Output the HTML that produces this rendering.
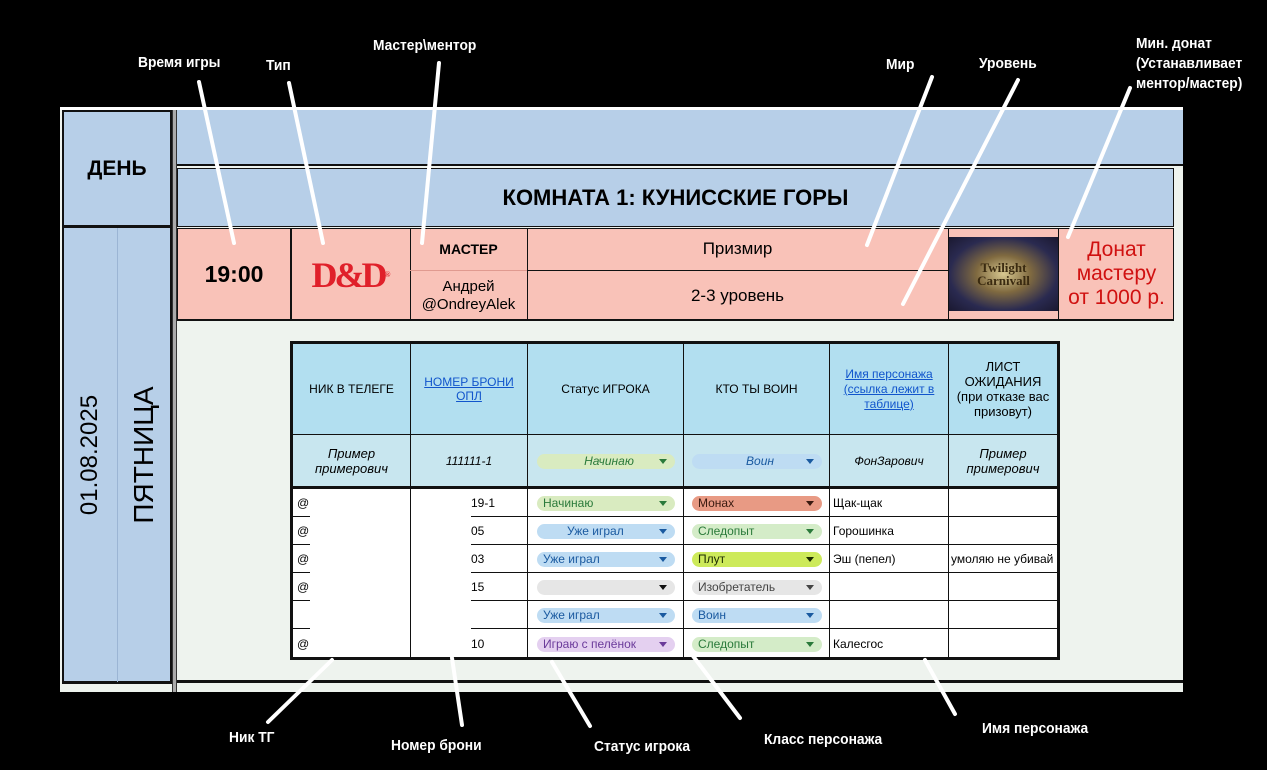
<!DOCTYPE html>
<html><head><meta charset="utf-8"><style>
body{margin:0;width:1267px;height:770px;background:#000;position:relative;overflow:hidden;font-family:"Liberation Sans","DejaVu Sans",sans-serif}
div{position:absolute;box-sizing:border-box}
.c{display:flex;align-items:center;justify-content:center;text-align:center}
.lbl{color:#fff;font-weight:bold;font-size:15px;white-space:nowrap;transform:scaleX(0.92);transform-origin:left top}
.pill{height:15px;border-radius:8px;font-size:12px;line-height:15px;padding-left:6px}
.pill:after{content:"";position:absolute;right:8px;top:5px;border-left:4px solid transparent;border-right:4px solid transparent;border-top:5px solid currentColor}
.t{font-size:12px;line-height:28px}
</style></head><body>
<div style="left:60px;top:107px;width:1123px;height:3px;background:#fff"></div>
<div style="left:60px;top:110px;width:1123px;height:582px;background:#eef3ee"></div>
<div style="left:62px;top:110px;width:110px;height:117px;background:#b7cfe8;border:2px solid #111"></div>
<div class="c" style="left:62px;top:110px;width:110px;height:117px;font-weight:bold;font-size:21px">ДЕНЬ</div>
<div style="left:62px;top:227px;width:110px;height:456px;background:#b7cfe8;border:2px solid #111;border-top:1px solid #111"></div>
<div style="left:117px;top:228px;width:1px;height:454px;background:#9bb5d4"></div>
<div class="c" style="left:-110px;top:440px;width:400px;height:30px;font-size:24px;transform:rotate(-90deg)">01.08.2025</div>
<div class="c" style="left:-56px;top:440px;width:400px;height:30px;font-size:28px;transform:rotate(-90deg)">ПЯТНИЦА</div>
<div style="left:172px;top:110px;width:5px;height:582px;background:#aaa;border-left:1px solid #333;border-right:1px solid #333"></div>
<div style="left:177px;top:110px;width:1006px;height:56px;background:#b7cfe8;border-bottom:2px solid #111"></div>
<div style="left:177px;top:168px;width:997px;height:59px;background:#b7cfe8;border:1px solid #111"></div>
<div class="c" style="left:177px;top:168px;width:997px;height:59px;font-weight:bold;font-size:22px">КОМНАТА 1: КУНИССКИЕ ГОРЫ</div>
<div style="left:177px;top:228px;width:997px;height:93px;background:#f9c2b8;border:1px solid #111;border-bottom:2px solid #111"></div>
<div style="left:290px;top:228px;width:2px;height:93px;background:#111"></div>
<div style="left:410px;top:228px;width:1px;height:93px;background:#111"></div>
<div style="left:527px;top:228px;width:1px;height:93px;background:#111"></div>
<div style="left:948px;top:228px;width:1px;height:93px;background:#111"></div>
<div style="left:1058px;top:228px;width:1px;height:93px;background:#111"></div>
<div style="left:410px;top:270px;width:117px;height:1px;background:#e09a90"></div>
<div style="left:527px;top:270px;width:421px;height:1px;background:#111"></div>
<div class="c" style="left:177px;top:228px;width:114px;height:93px;font-weight:bold;font-size:23px">19:00</div>
<div class="c" style="left:292px;top:228px;width:118px;height:93px;color:#e0202a;font-weight:bold;font-size:36px;font-family:'Liberation Serif',serif;letter-spacing:-3px">D&amp;D<span style="font-size:8px;letter-spacing:0">®</span></div>
<div class="c" style="left:410px;top:228px;width:117px;height:42px;font-weight:bold;font-size:14px">МАСТЕР</div>
<div class="c" style="left:410px;top:271px;width:117px;height:49px;font-size:15px;line-height:18px">Андрей<br>@OndreyAlek</div>
<div class="c" style="left:527px;top:228px;width:421px;height:42px;font-size:17px">Призмир</div>
<div class="c" style="left:527px;top:271px;width:421px;height:49px;font-size:17px">2-3 уровень</div>
<div class="c" style="left:949px;top:237px;width:109px;height:74px;background:radial-gradient(ellipse at center,#d8c890 0%,#806a40 35%,#2a2a50 70%,#1a1830 100%);color:#3a2a10;font-family:'Liberation Serif',serif;font-size:13px;line-height:13px;font-weight:bold">Twilight<br>Carnivall</div>
<div class="c" style="left:1059px;top:228px;width:115px;height:92px;color:#d01010;font-size:21px;line-height:24px">Донат<br>мастеру<br>от 1000 р.</div>
<div style="left:177px;top:680px;width:1006px;height:3px;background:#111"></div>
<div style="left:62px;top:682px;width:110px;height:2px;background:#111"></div>
<div style="left:290px;top:341px;width:770px;height:319px;background:#fff;border:3px solid #111"></div>
<div style="left:293px;top:344px;width:764px;height:90px;background:#b2dff0"></div>
<div style="left:293px;top:434px;width:764px;height:52px;background:#c8e6ef;border-top:1px solid #111"></div>
<div style="left:293px;top:486px;width:764px;height:3px;background:#111"></div>
<div style="left:410px;top:344px;width:1px;height:313px;background:#111"></div>
<div style="left:527px;top:344px;width:1px;height:313px;background:#111"></div>
<div style="left:683px;top:344px;width:1px;height:313px;background:#111"></div>
<div style="left:829px;top:344px;width:1px;height:313px;background:#111"></div>
<div style="left:948px;top:344px;width:1px;height:313px;background:#111"></div>
<div style="left:293px;top:516px;width:764px;height:1px;background:#111"></div>
<div style="left:293px;top:544px;width:764px;height:1px;background:#111"></div>
<div style="left:293px;top:572px;width:764px;height:1px;background:#111"></div>
<div style="left:293px;top:600px;width:764px;height:1px;background:#111"></div>
<div style="left:293px;top:628px;width:764px;height:1px;background:#111"></div>
<div class="c" style="left:293px;top:344px;width:117px;height:90px;font-size:12px">НИК В ТЕЛЕГЕ</div>
<div class="c" style="left:411px;top:344px;width:116px;height:90px;font-size:12px;color:#1155cc;text-decoration:underline">НОМЕР БРОНИ<br>ОПЛ</div>
<div class="c" style="left:528px;top:344px;width:155px;height:90px;font-size:12px">Статус ИГРОКА</div>
<div class="c" style="left:684px;top:344px;width:145px;height:90px;font-size:12px">КТО ТЫ ВОИН</div>
<div class="c" style="left:830px;top:344px;width:118px;height:90px;font-size:12px;color:#1155cc;text-decoration:underline;line-height:15px">Имя персонажа<br>(ссылка лежит в<br>таблице)</div>
<div class="c" style="left:949px;top:344px;width:108px;height:90px;font-size:13px;line-height:15px">ЛИСТ<br>ОЖИДАНИЯ<br>(при отказе вас<br>призовут)</div>
<div class="c" style="left:293px;top:435px;width:117px;height:51px;font-size:13px;font-style:italic">Пример<br>примерович</div>
<div class="c" style="left:411px;top:435px;width:116px;height:51px;font-size:12px;font-style:italic">111111-1</div>
<div class="pill c" style="left:537px;top:454px;width:138px;background:#d9ebc0;color:#2a7a3a;font-style:italic">Начинаю</div>
<div class="pill c" style="left:692px;top:454px;width:130px;background:#bedcf3;color:#1a5aa0;font-style:italic">Воин</div>
<div class="c" style="left:830px;top:435px;width:118px;height:51px;font-size:12px;font-style:italic">ФонЗарович</div>
<div class="c" style="left:949px;top:435px;width:108px;height:51px;font-size:13px;font-style:italic">Пример<br>примерович</div>
<div style="left:310px;top:489px;width:100px;height:168px;background:#fff"></div>
<div style="left:411px;top:489px;width:60px;height:168px;background:#fff"></div>
<div class="t" style="left:297px;top:489px">@</div>
<div class="t" style="left:297px;top:517px">@</div>
<div class="t" style="left:297px;top:545px">@</div>
<div class="t" style="left:297px;top:573px">@</div>
<div class="t" style="left:297px;top:630px">@</div>
<div class="t" style="left:471px;top:489px">19-1</div>
<div class="t" style="left:471px;top:517px">05</div>
<div class="t" style="left:471px;top:545px">03</div>
<div class="t" style="left:471px;top:573px">15</div>
<div class="t" style="left:471px;top:630px">10</div>
<div class="pill" style="left:537px;top:496px;width:138px;background:#d9ebc0;color:#2a7a3a">Начинаю</div>
<div class="pill" style="left:537px;top:524px;width:138px;background:#bedcf3;color:#1a5aa0;padding-left:30px">Уже играл</div>
<div class="pill" style="left:537px;top:552px;width:138px;background:#bedcf3;color:#1a5aa0">Уже играл</div>
<div class="pill" style="left:537px;top:580px;width:138px;background:#e6e6e6;color:#111"></div>
<div class="pill" style="left:537px;top:608px;width:138px;background:#bedcf3;color:#1a5aa0">Уже играл</div>
<div class="pill" style="left:537px;top:637px;width:138px;background:#e4d0f0;color:#6a3a9a">Играю с пелёнок</div>
<div class="pill" style="left:692px;top:496px;width:130px;background:#e89a84;color:#3a1a10">Монах</div>
<div class="pill" style="left:692px;top:524px;width:130px;background:#d4ecc8;color:#2a7a3a">Следопыт</div>
<div class="pill" style="left:692px;top:552px;width:130px;background:#cdea5a;color:#1a2a00">Плут</div>
<div class="pill" style="left:692px;top:580px;width:130px;background:#e6e6e6;color:#444">Изобретатель</div>
<div class="pill" style="left:692px;top:608px;width:130px;background:#bedcf3;color:#1a5aa0">Воин</div>
<div class="pill" style="left:692px;top:637px;width:130px;background:#d4ecc8;color:#2a7a3a">Следопыт</div>
<div class="t" style="left:833px;top:489px">Щак-щак</div>
<div class="t" style="left:833px;top:517px">Горошинка</div>
<div class="t" style="left:833px;top:545px">Эш (пепел)</div>
<div class="t" style="left:833px;top:630px">Калесгос</div>
<div class="t" style="left:951px;top:545px;width:106px;overflow:hidden;white-space:nowrap">умоляю не убивай</div>
<svg width="1267" height="770" style="position:absolute;left:0;top:0" stroke="#fff" stroke-width="4" stroke-linecap="round">
<line x1="199" y1="82" x2="234" y2="243"/>
<line x1="289" y1="83" x2="323" y2="243"/>
<line x1="439" y1="63" x2="422" y2="243"/>
<line x1="932" y1="77" x2="867" y2="245"/>
<line x1="1018" y1="80" x2="903" y2="304"/>
<line x1="1130" y1="88" x2="1068" y2="237"/>
<line x1="332" y1="660" x2="268" y2="722"/>
<line x1="452" y1="658" x2="462" y2="725"/>
<line x1="552" y1="662" x2="590" y2="726"/>
<line x1="693" y1="656" x2="740" y2="718"/>
<line x1="925" y1="660" x2="955" y2="714"/>
</svg>
<div class="lbl" style="left:138px;top:54px">Время игры</div>
<div class="lbl" style="left:266px;top:57px">Тип</div>
<div class="lbl" style="left:373px;top:37px">Мастер\ментор</div>
<div class="lbl" style="left:886px;top:56px">Мир</div>
<div class="lbl" style="left:979px;top:55px">Уровень</div>
<div class="lbl" style="left:1136px;top:34px;line-height:20px">Мин. донат<br>(Устанавливает<br>ментор/мастер)</div>
<div class="lbl" style="left:229px;top:729px">Ник ТГ</div>
<div class="lbl" style="left:391px;top:737px">Номер брони</div>
<div class="lbl" style="left:594px;top:738px">Статус игрока</div>
<div class="lbl" style="left:764px;top:731px">Класс персонажа</div>
<div class="lbl" style="left:982px;top:720px">Имя персонажа</div>
</body></html>
